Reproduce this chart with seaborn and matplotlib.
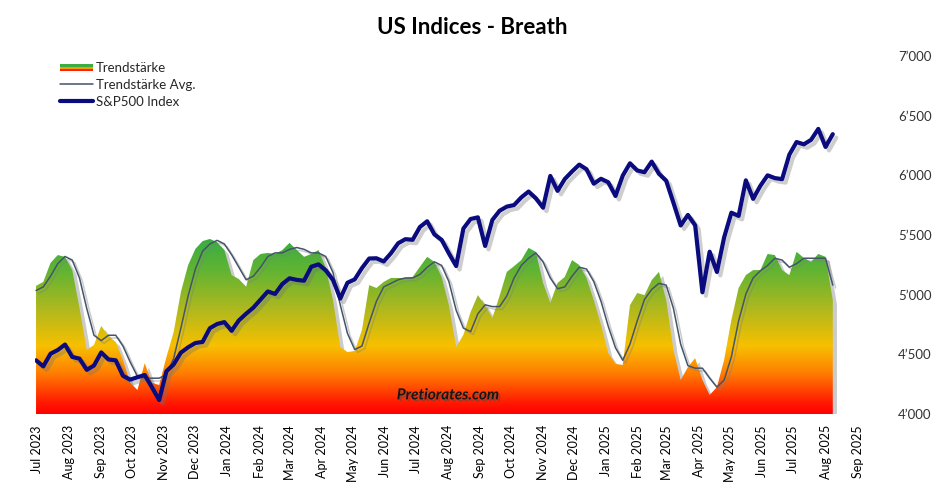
import numpy as np
import pandas as pd
import seaborn as sns
import matplotlib
matplotlib.use("Agg")
import matplotlib.pyplot as plt
import matplotlib.dates as mdates
import matplotlib.patheffects as pe
from matplotlib.colors import LinearSegmentedColormap
from matplotlib.legend_handler import HandlerBase
from matplotlib.patches import Rectangle
from matplotlib.lines import Line2D
from matplotlib.ticker import FuncFormatter

# weekly readings (Fridays), Jun 2023 - Aug 2025
weeks = pd.date_range("2023-06-30", "2025-08-08", freq="W-FRI")

# Trendstaerke (hidden scale 0-100)
trend = [35.8, 36.9, 42.2, 44.4, 43.9, 40.2, 29.6, 17.9, 19.3, 24.6,
         21.8, 20.1, 15.1, 8.7, 6.7, 14.2, 8.7, 8.1, 15.9, 22.9,
         34.1, 41.6, 46.1, 48.3, 48.9, 48.0, 45.8, 38.8, 37.7, 35.5,
         43.0, 44.7, 45.0, 44.7, 45.8, 47.8, 45.8, 43.9, 44.7, 45.8,
         40.8, 31.8, 18.7, 17.3, 17.6, 23.5, 36.0, 35.2, 36.9, 38.0,
         38.0, 38.0, 38.3, 41.1, 43.9, 42.5, 38.3, 30.4, 18.7, 22.1,
         28.5, 33.2, 30.4, 26.8, 33.0, 39.7, 41.3, 43.0, 46.4, 45.3,
         36.6, 31.0, 36.6, 38.3, 43.0, 41.6, 38.0, 31.8, 24.9, 17.0,
         14.0, 13.7, 30.4, 33.8, 33.2, 37.4, 39.7, 31.8, 17.9, 9.5,
         13.1, 15.6, 9.5, 5.3, 7.5, 15.1, 26.3, 35.2, 38.8, 40.2,
         40.2, 44.7, 44.4, 40.2, 38.8, 45.3, 43.6, 42.5, 44.7, 43.9,
         31.8]

trend_avg = [34.5, 35.5, 38.5, 42.0, 44.0, 43.0, 38.0, 29.5, 22.0, 20.5,
             22.0, 22.0, 19.0, 14.5, 10.5, 10.0, 10.0, 10.0, 11.0, 15.5,
             24.0, 33.0, 40.5, 45.5, 47.5, 48.5, 47.5, 44.5, 41.0, 37.5,
             38.5, 41.0, 44.0, 45.0, 45.0, 46.0, 46.5, 46.0, 45.0, 45.0,
             44.0, 39.5, 30.5, 22.5, 18.0, 19.0, 25.5, 31.5, 35.5, 36.5,
             37.5, 38.0, 38.0, 39.0, 41.0, 42.5, 41.5, 37.0, 29.0, 24.0,
             23.0, 28.0, 30.5, 30.0, 30.0, 33.0, 38.0, 41.5, 43.5, 45.0,
             42.5, 38.0, 35.0, 35.5, 38.5, 41.0, 40.5, 37.0, 31.5, 24.5,
             18.5, 15.0, 19.5, 26.0, 32.0, 34.8, 36.5, 36.0, 29.5, 19.5,
             13.5, 12.8, 12.8, 10.0, 7.5, 9.5, 16.0, 26.0, 33.5, 38.0,
             40.0, 41.5, 43.5, 43.0, 41.0, 42.0, 43.5, 43.5, 43.5, 43.5,
             36.0]

spx = [4450, 4399, 4505, 4536, 4582, 4478, 4464, 4370, 4406, 4516,
       4457, 4450, 4320, 4288, 4308, 4327, 4224, 4117, 4358, 4415,
       4514, 4559, 4595, 4604, 4719, 4754, 4770, 4697, 4784, 4840,
       4891, 4959, 5027, 5006, 5089, 5137, 5124, 5117, 5234, 5254,
       5204, 5123, 4967, 5100, 5128, 5223, 5303, 5305, 5278, 5347,
       5431, 5465, 5460, 5567, 5615, 5505, 5459, 5346, 5240, 5554,
       5634, 5648, 5408, 5626, 5703, 5738, 5751, 5815, 5864, 5808,
       5729, 5995, 5870, 5969, 6032, 6090, 6051, 5930, 5971, 5942,
       5827, 5997, 6101, 6041, 6026, 6115, 6013, 5955, 5770, 5580,
       5668, 5581, 5020, 5360, 5190, 5480, 5687, 5660, 5958, 5803,
       5912, 6000, 5977, 5968, 6173, 6279, 6260, 6297, 6389, 6238,
       6345]

spx_ticks = [4000, 4500, 5000, 5500, 6000, 6500, 7000]

df = pd.DataFrame({"date": weeks, "trend": trend, "avg": trend_avg, "spx": spx})

sns.set_theme(style="white")
plt.rcParams["font.family"] = ["Lato", "DejaVu Sans"]

fig = plt.figure(figsize=(9.45, 4.93), dpi=100)
ax = fig.add_axes([35 / 945, 79 / 493, 834 / 945, 358 / 493])

x0, x1 = mdates.date2num([pd.Timestamp("2023-06-29"), pd.Timestamp("2025-09-12")])

# shadow of the area, then a vertical gradient clipped to it
poly = ax.fill_between(df["date"], 0, df["trend"], facecolor="0.6", edgecolor="none",
                       zorder=1,
                       path_effects=[pe.SimplePatchShadow(offset=(3, -3), shadow_rgbFace="0.55",
                                                          alpha=0.45)])
cmap = LinearSegmentedColormap.from_list("breadth", [
    (0.00, "#ff0000"), (0.03, "#ff1a00"), (0.115, "#ff8000"), (0.19, "#f7c000"),
    (0.30, "#a9b820"), (0.40, "#62b432"), (0.48, "#3cad42"), (1.00, "#2ea84a")])
grad = np.linspace(0, 1, 512).reshape(-1, 1)
im = ax.imshow(grad, aspect="auto", cmap=cmap, origin="lower",
               extent=[x0, x1, 0, 100], zorder=2, interpolation="bilinear")
im.set_clip_path(poly.get_paths()[0], transform=ax.transData)

sns.lineplot(data=df, x="date", y="avg", ax=ax, color="#44546a", linewidth=1.1, zorder=3)
ax.lines[-1].set_path_effects([pe.SimpleLineShadow(offset=(2, -2), shadow_color="0.5", alpha=0.4),
                               pe.Normal()])

ax.set_xlim(x0, x1)
ax.set_ylim(0, 100)
ax.set_ylabel("")
ax.set_xlabel("")
ax.set_yticks([])
ax.xaxis.set_major_locator(mdates.MonthLocator())
ax.xaxis.set_major_formatter(mdates.DateFormatter("%b %Y"))
ax.tick_params(axis="x", rotation=90, labelsize=9, length=0, pad=8, colors="#000000")
for lbl in ax.get_xticklabels():
    lbl.set_va("top")

ax2 = ax.twinx()
sns.lineplot(data=df, x="date", y="spx", ax=ax2, color="#0b0b80", linewidth=3.0)
ax2.lines[-1].set_path_effects([pe.SimpleLineShadow(offset=(2.5, -2.5), shadow_color="0.45", alpha=0.35),
                                pe.Normal()])
ax2.set_ylim(4000, 7000)
ax2.set_yticks(spx_ticks)
ax2.yaxis.set_major_formatter(FuncFormatter(lambda v, p: f"{int(v) // 1000}\u2019{int(v) % 1000:03d}"))
ax2.tick_params(axis="y", labelsize=9.5, length=0, pad=21, colors="#333333")
ax2.set_ylabel("")
ax2.set_xlim(x0, x1)

for a in (ax, ax2):
    for s in a.spines.values():
        s.set_visible(False)
    a.grid(False)

ax2.text(0.495, 0.052, "Pretiorates.com", transform=ax2.transAxes, ha="center", va="center",
         fontsize=11, fontweight="bold", style="italic", color="#161616",
         path_effects=[pe.withSimplePatchShadow(offset=(1.5, -1.5), shadow_rgbFace="0.3", alpha=0.5)],
         zorder=10)


class GradientHandler(HandlerBase):
    def create_artists(self, legend, orig_handle, xdescent, ydescent, width, height, fontsize, trans):
        cols = ["#3cad42", "#f5a000", "#ff2000"]
        hs = [height * 0.3, height * 0.2, height * 0.2]
        y = height / 2 + height * 0.35 - ydescent
        out = []
        for c, h in zip(cols, hs):
            y -= h
            out.append(Rectangle((-xdescent, y), width, h,
                                 facecolor=c, edgecolor="none", transform=trans))
        return out


h_trend = Rectangle((0, 0), 1, 1)
h_avg = Line2D([], [], color="#44546a", linewidth=1.1)
h_spx = Line2D([], [], color="#0b0b80", linewidth=3.0)
ax2.legend([h_trend, h_avg, h_spx], ["Trendst\u00e4rke", "Trendst\u00e4rke Avg.", "S&P500 Index"],
           handler_map={Rectangle: GradientHandler()},
           loc="upper left", bbox_to_anchor=(55 / 945, 1 - 57 / 493), bbox_transform=fig.transFigure,
           frameon=False, fontsize=9.5, handlelength=2.5, handletextpad=0.2, labelspacing=0.35,
           borderaxespad=0)

fig.text(0.5, 1 - 28 / 493, "US Indices - Breath", ha="center", va="center",
         fontsize=16, fontweight="bold", color="#000000")

fig.savefig("out.png", dpi=100)
